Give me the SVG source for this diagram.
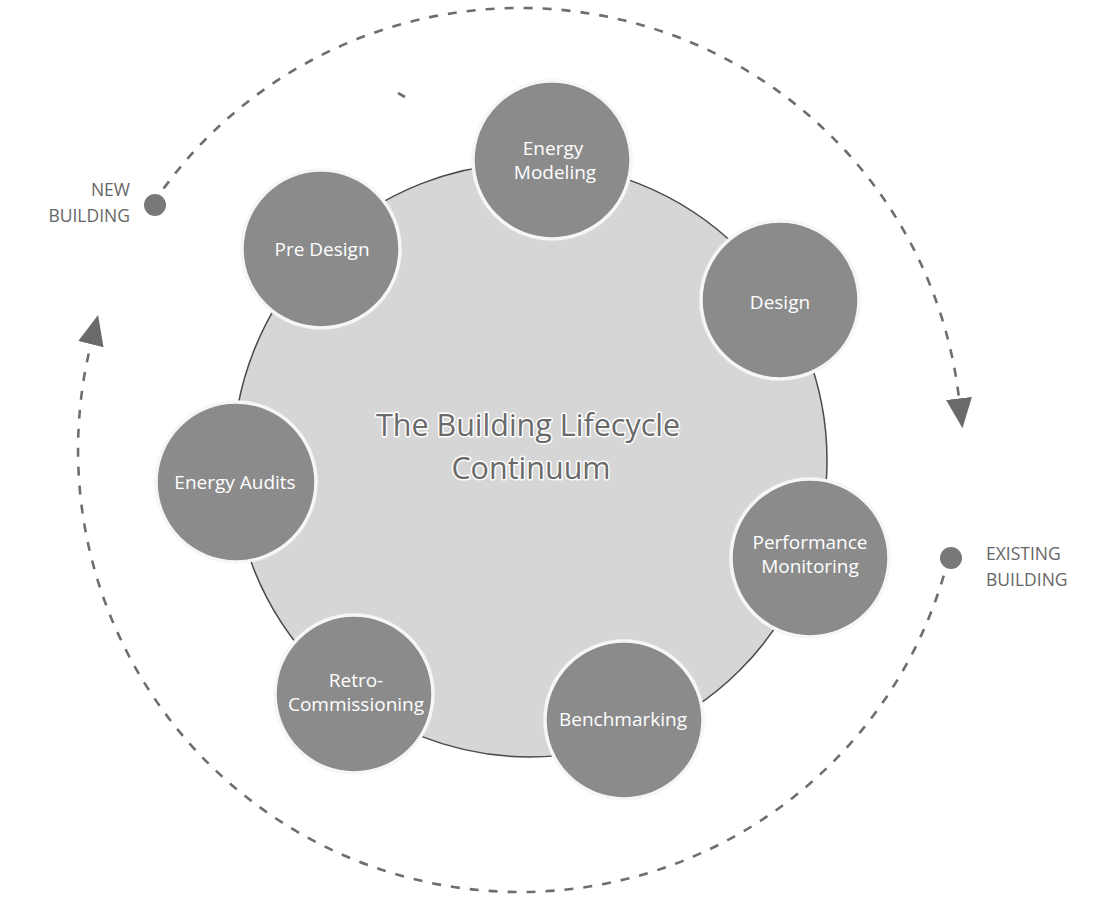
<svg xmlns="http://www.w3.org/2000/svg" width="1104" height="908" viewBox="0 0 1104 908">
<defs>
<style>
.dash{fill:none;stroke:#6e6e6e;stroke-width:2.6;stroke-dasharray:9 10;}
.node circle{fill:#8b8b8b;stroke:#f6f6f6;stroke-width:3.5;}
.node text{font-family:"Open Sans","Liberation Sans",sans-serif;font-size:19px;fill:#ffffff;text-anchor:middle;}
.lbl{font-family:"Open Sans","Liberation Sans",sans-serif;font-size:17.5px;fill:#666666;}
.title{font-family:"Open Sans","Liberation Sans",sans-serif;font-size:30.5px;fill:#6a6a6a;text-anchor:middle;stroke:#ffffff;stroke-width:3;paint-order:stroke;stroke-linejoin:round;}
.dot{fill:#787878;}
</style>
<marker id="arr" markerUnits="userSpaceOnUse" markerWidth="34" markerHeight="30" viewBox="0 -15 34 30" refX="0" refY="0" orient="auto">
<path d="M0,-13 L30,0 L0,13 Z" fill="#6a6a6a"/>
</marker>
</defs>
<rect width="1104" height="908" fill="#ffffff"/>

<g id="connectors">
<path class="dash" d="M152.7,204.1 A442,442 0 0 1 959.0,398.4" marker-end="url(#arr)"/>
<path class="dash" d="M948.7,557.4 A442,442 0 0 1 520,892 A442,442 0 0 1 90.9,344.2" marker-end="url(#arr)"/>
<path class="dash" d="M398,93 L405,97" stroke-dasharray="none"/>
</g>

<g id="continuum">
<circle cx="530" cy="460" r="297" fill="#d6d6d6" stroke="#4a4a4a" stroke-width="1.5"/>
<text class="title" x="528" y="436">The Building Lifecycle</text>
<text class="title" x="531" y="479">Continuum</text>
</g>

<g id="new-building">
<circle class="dot" cx="155" cy="205" r="11"/>
<text class="lbl" x="130" y="196" text-anchor="end">NEW</text>
<text class="lbl" x="130" y="222" text-anchor="end">BUILDING</text>
</g>

<g id="existing-building">
<circle class="dot" cx="951" cy="558" r="11"/>
<text class="lbl" x="986" y="560">EXISTING</text>
<text class="lbl" x="986" y="586">BUILDING</text>
</g>

<g id="pre-design" class="node">
<circle cx="321" cy="249" r="79"/>
<text x="322" y="256">Pre Design</text>
</g>

<g id="energy-modeling" class="node">
<circle cx="552" cy="160" r="79"/>
<text x="553" y="155">Energy</text>
<text x="555" y="179">Modeling</text>
</g>

<g id="design" class="node">
<circle cx="780" cy="300" r="79"/>
<text x="780" y="309">Design</text>
</g>

<g id="performance-monitoring" class="node">
<circle cx="810" cy="558" r="79"/>
<text x="810" y="549">Performance</text>
<text x="810" y="573">Monitoring</text>
</g>

<g id="benchmarking" class="node">
<circle cx="624" cy="720" r="79"/>
<text x="623" y="726">Benchmarking</text>
</g>

<g id="retro-commissioning" class="node">
<circle cx="354" cy="694" r="79"/>
<text x="356" y="687">Retro-</text>
<text x="356" y="711">Commissioning</text>
</g>

<g id="energy-audits" class="node">
<circle cx="236" cy="482" r="80"/>
<text x="235" y="489">Energy Audits</text>
</g>
</svg>
